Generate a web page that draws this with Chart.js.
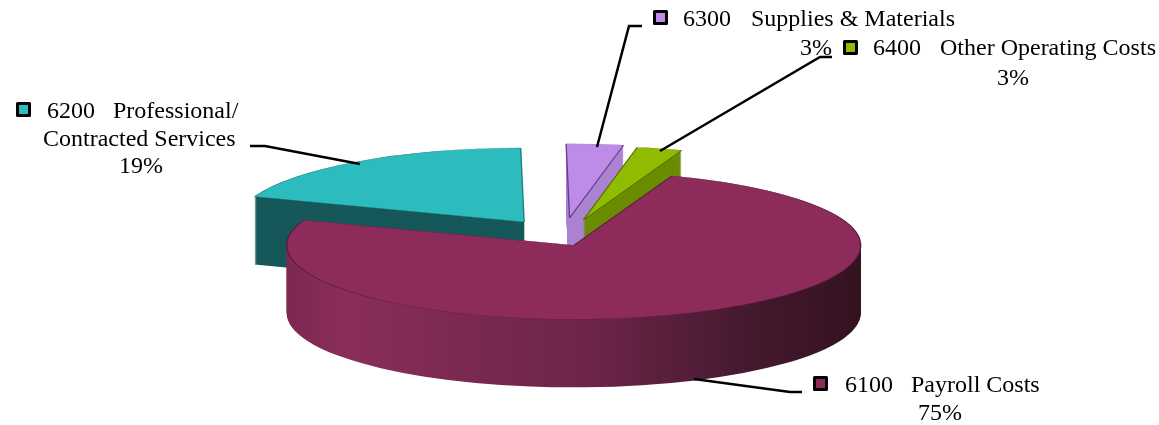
<!DOCTYPE html>
<html>
<head>
<meta charset="utf-8">
<style>
  body { margin: 0; background: #fff; }
  #wrap { width: 1159px; height: 425px; }
</style>
<script src="https://cdn.jsdelivr.net/npm/chart.js@4/dist/chart.umd.min.js"></script>
</head>
<body>
<div id="wrap"><canvas id="pie" width="1159" height="425"></canvas></div>
<script>
const codes = ['6100', '6200', '6300', '6400'];
const names = ['Payroll Costs', 'Professional/', 'Supplies & Materials', 'Other Operating Costs'];
const values = [75, 19.25, 3.2, 2.55];

const topColors = ['#8d2c5b', '#2dbcbe', '#be8ce8', '#8fbc00'];
const wallColors = ['#8d2c5b', '#16585a', '#ab83d0', '#6b8c00'];
const edgeColors = ['#5a1a3a', '#1f7f80', '#5e3f8a', '#4e6600'];

// flattening of the pie, all in screen pixels
const R = 150;
const centerX = 562, centerY = 240;
const scaleX = 287 / R, scaleY = 74 / R;
const depth = 68;
const explode = [0.08, 0.3, 0.3, 0.28];
const nudgeX = [2, 12, 0, 0];
const drawOrder = [1, 2, 3, 0];

const font = '24px "Liberation Serif"';

function place(ctx, arc, i, dy) {
    const mid = (arc.startAngle + arc.endAngle) / 2;
    ctx.translate(centerX + nudgeX[i], centerY + dy);
    ctx.scale(scaleX, scaleY);
    ctx.translate(Math.cos(mid) * explode[i] * R, Math.sin(mid) * explode[i] * R);
    ctx.translate(-arc.x, -arc.y);
}

const pie3d = {
    id: 'pie3d',
    beforeDatasetsDraw(chart) {
        const ctx = chart.ctx;
        const arcs = chart.getDatasetMeta(0).data;
        const cx = arcs[0].x;
        const grad = ctx.createLinearGradient(cx - R, 0, cx + R, 0);
        grad.addColorStop(0, '#7d2850');
        grad.addColorStop(0.1, '#8a2d5a');
        grad.addColorStop(0.55, '#6a2448');
        grad.addColorStop(0.8, '#45192f');
        grad.addColorStop(1, '#351220');

        drawOrder.forEach(i => {
            const arc = arcs[i];
            const shared = arc.options;
            const fill = i === 0 ? grad : wallColors[i];
            arc.options = { ...shared, backgroundColor: fill, borderColor: fill, borderWidth: 0 };
            for (let dy = depth; dy > 0; dy--) {
                ctx.save();
                place(ctx, arc, i, dy);
                arc.draw(ctx);
                ctx.restore();
            }
            arc.options = shared;
            ctx.save();
            place(ctx, arc, i, 0);
            arc.draw(ctx);
            ctx.restore();
        });
        return false;
    },
    afterDraw(chart) {
        const ctx = chart.ctx;
        ctx.save();

        // leader lines
        ctx.strokeStyle = '#000';
        ctx.lineWidth = 2.5;
        leaders.forEach(pts => {
            ctx.beginPath();
            pts.forEach((p, n) => n ? ctx.lineTo(p[0], p[1]) : ctx.moveTo(p[0], p[1]));
            ctx.stroke();
        });

        // swatches
        swatches.forEach((s, i) => {
            ctx.fillStyle = topColors[i];
            ctx.lineJoin = 'round';
            ctx.lineWidth = 3;
            ctx.fillRect(s[0], s[1], 12, 12);
            ctx.strokeRect(s[0], s[1], 12, 12);
        });

        // label text
        ctx.fillStyle = '#000';
        ctx.font = font;
        ctx.textBaseline = 'alphabetic';
        texts.forEach(t => ctx.fillText(t[0], t[1], t[2]));
        ctx.restore();
    }
};

const pct = values.map(v => Math.round(v) + '%');

const leaders = [
    [[694, 379], [790, 392], [802, 392]],
    [[360, 164], [265, 146], [250, 146]],
    [[597, 147], [629, 26], [642, 26]],
    [[660, 151], [820, 57], [832, 57]]
];
const swatches = [[814.5, 377.5], [17.5, 103.5], [654.5, 11.5], [844.5, 41.5]];
const texts = [
    [codes[0], 845, 392], [names[0], 911, 392], [pct[0], 918, 420],
    [codes[1], 47, 118], [names[1], 113, 118], ['Contracted Services', 43, 146], [pct[1], 119, 173],
    [codes[2], 683, 26], [names[2], 751, 26], [pct[2], 800, 55],
    [codes[3], 873, 55], [names[3], 940, 55], [pct[3], 997, 85]
];

new Chart(document.getElementById('pie').getContext('2d'), {
    type: 'pie',
    data: {
        labels: codes.map((c, i) => c + ' ' + names[i]),
        datasets: [{
            data: values,
            backgroundColor: topColors,
            borderColor: edgeColors,
            borderWidth: 0.7
        }]
    },
    options: {
        responsive: false,
        animation: false,
        rotation: 20,
        radius: R,
        layout: { padding: 0 },
        plugins: { legend: { display: false }, tooltip: { enabled: false } }
    },
    plugins: [pie3d]
});
</script>
</body>
</html>
